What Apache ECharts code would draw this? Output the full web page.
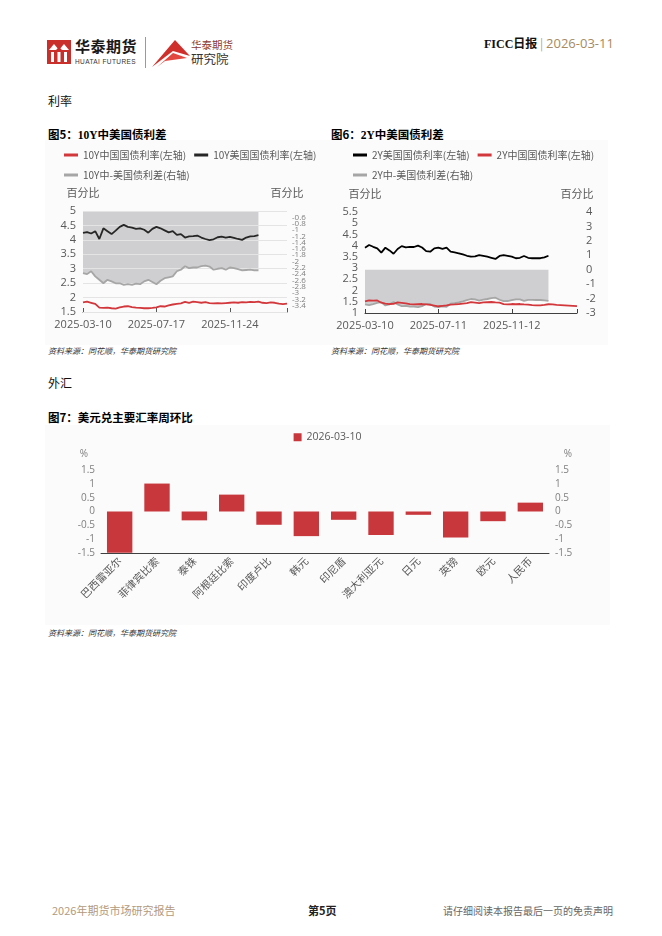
<!DOCTYPE html>
<html><head><meta charset="utf-8">
<script src="https://cdn.jsdelivr.net/npm/echarts@6/dist/echarts.min.js"></script>
<style>
html,body{margin:0;padding:0;background:#fff;}
body{width:662px;height:936px;position:relative;overflow:hidden;font-family:'Noto Sans CJK SC','Noto Sans',sans-serif;}
.t{position:absolute;white-space:nowrap;line-height:1;}
.chart{position:absolute;background:#fbfbfb;}
</style></head>
<body>
<!-- header -->
<svg class="t" style="left:47px;top:40px" width="24" height="24" viewBox="0 0 24 24">
  <rect x="0" y="0" width="24" height="24" fill="#c9302c"/>
  <polygon points="2,10 7,4 12,10" fill="#fff"/>
  <polygon points="12,10 17,4 22,10" fill="#fff"/>
  <rect x="4" y="12" width="3" height="10" fill="#fff"/>
  <rect x="10.5" y="12" width="3" height="10" fill="#fff"/>
  <rect x="17" y="12" width="3" height="10" fill="#fff"/>
  <polygon points="7,12 12,7 17,12" fill="#c9302c"/>
</svg>
<div class="t" style="left:75px;top:38px;font-size:15px;font-weight:bold;letter-spacing:0.5px;color:#1a1a1a">华泰期货</div>
<div class="t" style="left:75px;top:59px;font-size:6.5px;letter-spacing:0.4px;color:#333;font-family:'Liberation Sans',sans-serif">HUATAI FUTURES</div>
<div class="t" style="left:145px;top:37px;width:1px;height:31px;background:#9a9a9a"></div>
<svg class="t" style="left:151px;top:37px" width="40" height="31" viewBox="0 0 40 31">
  <polygon points="1,30 24,3 39,19 22,14" fill="#d0302b"/>
  <polygon points="6,30 22,16 36,21 14,24" fill="#e2483f"/>
</svg>
<div class="t" style="left:191px;top:40px;font-size:10.5px;color:#8a3b35">华泰期货</div>
<div class="t" style="left:191px;top:53px;font-size:12.5px;color:#333">研究院</div>
<div class="t" style="left:484px;top:37px;font-size:12px;font-weight:bold;color:#111"><span style="font-family:'Liberation Serif',serif">FICC</span>日报 <span style="color:#b9a07c;font-weight:normal">|</span> <span style="color:#a68a60;font-weight:normal;font-size:13px;font-family:'Open Sans',sans-serif">2026-03-11</span></div>

<div class="t" style="left:48px;top:95px;font-size:12px;color:#111">利率</div>
<div class="t" style="left:48px;top:129px;font-size:11.5px;font-weight:bold;color:#000">图5：<span style="font-family:'Liberation Serif',serif">10Y</span>中美国债利差</div>
<div class="t" style="left:331px;top:129px;font-size:11.5px;font-weight:bold;color:#000">图6：<span style="font-family:'Liberation Serif',serif">2Y</span>中美国债利差</div>

<div id="c5" class="chart" style="left:45px;top:140px;width:283px;height:205px"></div>
<div id="c6" class="chart" style="left:328px;top:140px;width:280px;height:205px"></div>

<div class="t" style="left:48px;top:347px;font-size:8px;font-style:italic;color:#333">资料来源：同花顺，华泰期货研究院</div>
<div class="t" style="left:331px;top:347px;font-size:8px;font-style:italic;color:#333">资料来源：同花顺，华泰期货研究院</div>

<div class="t" style="left:48px;top:377px;font-size:12px;color:#111">外汇</div>
<div class="t" style="left:48px;top:412px;font-size:11.5px;font-weight:bold;color:#000">图7：美元兑主要汇率周环比</div>
<div id="c7" class="chart" style="left:45px;top:425px;width:565px;height:200px"></div>
<div class="t" style="left:48px;top:629px;font-size:8px;font-style:italic;color:#333">资料来源：同花顺，华泰期货研究院</div>

<!-- footer -->
<div class="t" style="left:52px;top:905px;font-size:11px;color:#b39a7c">2026年期货市场研究报告</div>
<div class="t" style="left:308px;top:905px;font-size:11px;font-weight:bold;color:#222">第5页</div>
<div class="t" style="left:443px;top:906px;font-size:10px;color:#666">请仔细阅读本报告最后一页的免责声明</div>

<script>
// ---------- data ----------
const dates10Y = ['2025-03-10','2025-03-17','2025-03-24','2025-04-01','2025-04-08','2025-04-15','2025-04-22','2025-04-29','2025-05-06','2025-05-13','2025-05-21','2025-05-28','2025-06-04','2025-06-11','2025-06-18','2025-06-25','2025-07-03','2025-07-10','2025-07-17',
 '2025-07-24','2025-07-31','2025-08-08','2025-08-15','2025-08-22','2025-08-29','2025-09-05','2025-09-12','2025-09-19','2025-09-26','2025-10-03','2025-10-10','2025-10-17','2025-10-24','2025-10-31','2025-11-07','2025-11-17','2025-11-24',
 '2025-12-01','2025-12-08','2025-12-15','2025-12-22','2025-12-29','2026-01-05','2026-01-12','2026-01-19','2026-01-26','2026-02-02','2026-02-09','2026-02-16','2026-02-23','2026-03-02'];
const cn10Y = [1.83,1.86,1.82,1.78,1.65,1.64,1.65,1.63,1.62,1.66,1.69,1.70,1.67,1.65,1.64,1.63,1.63,1.64,1.66,1.70,1.69,1.73,1.76,1.78,1.80,1.85,1.82,1.86,1.84,1.82,1.84,1.81,1.80,1.81,1.80,1.81,1.82,1.83,1.82,1.84,1.83,1.85,1.84,1.86,1.82,1.81,1.83,1.82,1.79,1.77,1.79];
const us10Y = [4.24,4.27,4.22,4.30,4.03,4.40,4.30,4.20,4.32,4.45,4.52,4.45,4.42,4.38,4.40,4.35,4.25,4.38,4.45,4.40,4.33,4.26,4.30,4.17,4.20,4.08,4.12,4.13,4.15,4.08,4.03,3.99,4.02,4.09,4.11,4.08,4.10,4.07,4.03,4.00,4.08,4.12,4.13,4.16,null,null,null,null,null,null,null];
const spread10Y = [-2.37,-2.40,-2.31,-2.47,-2.58,-2.69,-2.58,-2.63,-2.69,-2.69,-2.74,-2.72,-2.74,-2.70,-2.72,-2.63,-2.58,-2.65,-2.72,-2.61,-2.53,-2.50,-2.47,-2.31,-2.26,-2.15,-2.21,-2.19,-2.19,-2.15,-2.13,-2.16,-2.26,-2.23,-2.21,-2.26,-2.19,-2.21,-2.24,-2.28,-2.27,-2.26,-2.28,-2.28,null,null,null,null,null,null,null];

const dates2Y = ['2025-03-10','2025-03-17','2025-03-24','2025-03-31','2025-04-07','2025-04-14','2025-04-21','2025-04-28','2025-05-06','2025-05-12','2025-05-19','2025-05-26','2025-06-02','2025-06-09','2025-06-16','2025-06-23','2025-06-30','2025-07-04','2025-07-11',
 '2025-07-18','2025-07-25','2025-08-01','2025-08-08','2025-08-15','2025-08-22','2025-08-29','2025-09-05','2025-09-12','2025-09-19','2025-09-26','2025-10-03','2025-10-10','2025-10-17','2025-10-24','2025-10-31','2025-11-06','2025-11-12',
 '2025-11-19','2025-11-26','2025-12-03','2025-12-10','2025-12-17','2025-12-24','2025-12-31','2026-01-07','2026-01-14','2026-01-21','2026-01-28','2026-02-04','2026-02-11','2026-02-18','2026-02-25','2026-03-04'];
const us2Y = [3.91,4.03,3.95,3.88,3.69,3.91,3.79,3.64,3.85,3.98,3.92,3.95,3.94,4.00,3.92,3.76,3.73,3.88,3.91,3.86,3.91,3.73,3.70,3.66,3.61,3.55,3.51,3.52,3.58,3.55,3.51,3.46,3.41,3.54,3.58,3.55,3.51,3.44,3.46,3.54,3.46,3.44,3.44,3.44,3.48,3.55,null,null,null,null,null,null,null];
const cn2Y = [1.52,1.56,1.55,1.56,1.46,1.42,1.40,1.41,1.47,1.45,1.43,1.40,1.38,1.39,1.40,1.38,1.36,1.33,1.30,1.32,1.34,1.37,1.38,1.40,1.42,1.44,1.48,1.46,1.44,1.47,1.48,1.49,1.47,1.46,1.40,1.38,1.40,1.39,1.40,1.38,1.37,1.35,1.34,1.34,1.36,1.39,1.38,1.36,1.35,1.34,1.33,1.32,1.31];
const spread2Y = [-2.40,-2.45,-2.38,-2.30,-2.25,-2.48,-2.40,-2.24,-2.40,-2.52,-2.50,-2.55,-2.56,-2.60,-2.52,-2.38,-2.37,-2.55,-2.60,-2.54,-2.57,-2.36,-2.32,-2.26,-2.19,-2.11,-2.03,-2.06,-2.14,-2.08,-2.03,-1.97,-1.94,-2.08,-2.18,-2.17,-2.11,-2.05,-2.06,-2.16,-2.09,-2.09,-2.10,-2.10,-2.12,-2.16,null,null,null,null,null,null,null];

const fxNames = ['巴西雷亚尔','菲律宾比索','泰铢','阿根廷比索','印度卢比','韩元','印尼盾','澳大利亚元','日元','英镑','欧元','人民币'];
const fxWeekChg = [-1.49,1.01,-0.32,0.61,-0.48,-0.89,-0.30,-0.85,-0.12,-0.94,-0.35,0.32];
const fxSeriesName = '2026-03-10';

// ---------- styles ----------
const FF = "'Open Sans','Noto Sans CJK SC',sans-serif";
const LBL = '#595959';
const RED = '#d2373c', BLACK10 = '#262626', BLACK2 = '#000000', GREY = '#a6a6a6', AREA = '#cfcfd1';

function lineSeries(name, data, color, yIdx, z){
  return {name, type:'line', data, yAxisIndex:yIdx, symbol:'none', connectNulls:false,
    lineStyle:{color, width:1.8}, itemStyle:{color}, z};
}
function legendCfg(names, left, top){
  return {data:names, left, top, width:400, icon:'rect', itemWidth:14, itemHeight:3, itemGap:8,
    textStyle:{fontSize:10, color:LBL, fontFamily:"'Noto Sans CJK SC',sans-serif"}};
}
function tickEvery(n, last){ return (i)=> i % n === 0 || i === last; }

// chart 5
const c5 = echarts.init(document.getElementById('c5'));
const n5 = ['10Y中国国债利率(左轴)','10Y美国国债利率(左轴)','10Y中-美国债利差(右轴)'];
c5.setOption({
  animation:false, textStyle:{fontFamily:FF},
  legend:[legendCfg([n5[0],n5[1]],14,5), legendCfg([n5[2]],14,25)],
  grid:{left:38, right:41, top:71, bottom:33},
  xAxis:{type:'category', data:dates10Y, boundaryGap:false,
    axisLine:{onZero:false, lineStyle:{color:'#595959'}},
    axisTick:{inside:true, length:4, interval:tickEvery(18, dates10Y.length-1), lineStyle:{color:'#595959'}},
    axisLabel:{interval:(i)=> i%18===0 && i < dates10Y.length-5, color:LBL, fontSize:11, margin:7}},
  yAxis:[
    {type:'value', min:1.5, max:5, interval:0.5, name:'百分比', nameGap:13,
     nameTextStyle:{color:LBL, fontSize:11, fontFamily:"'Noto Sans CJK SC',sans-serif"},
     axisLabel:{color:LBL, fontSize:11, margin:7}, axisLine:{show:false}, axisTick:{show:false},
     splitLine:{lineStyle:{color:'#e4e4e4', width:1}}, z:2},
    {type:'value', min:-3.6, max:-0.4, interval:0.2, name:'百分比', nameGap:13,
     nameTextStyle:{color:LBL, fontSize:11, fontFamily:"'Noto Sans CJK SC',sans-serif"},
     axisLabel:{color:'#7f7f7f', fontSize:8, margin:5}, axisLine:{show:false}, axisTick:{show:false},
     splitLine:{show:false}}
  ],
  series:[
    {name:n5[2], type:'line', data:spread10Y, yAxisIndex:1, symbol:'none', lineStyle:{width:0},
     itemStyle:{color:GREY}, areaStyle:{origin:'end', color:AREA, opacity:1}, z:1},
    lineSeries(n5[2], spread10Y, GREY, 1, 3),
    lineSeries(n5[0], cn10Y, RED, 0, 4),
    lineSeries(n5[1], us10Y, BLACK10, 0, 4)
  ]
});

// chart 6
const c6 = echarts.init(document.getElementById('c6'));
const n6 = ['2Y美国国债利率(左轴)','2Y中国国债利率(左轴)','2Y中-美国债利差(右轴)'];
c6.setOption({
  animation:false, textStyle:{fontFamily:FF},
  legend:[legendCfg([n6[0],n6[1]],20,5), legendCfg([n6[2]],20,25)],
  grid:{left:37, right:31, top:72, bottom:32},
  xAxis:{type:'category', data:dates2Y, boundaryGap:false,
    axisLine:{onZero:false, lineStyle:{color:'#404040'}},
    axisTick:{inside:true, length:4, interval:tickEvery(18, dates2Y.length-1), lineStyle:{color:'#404040'}},
    axisLabel:{interval:(i)=> i%18===0 && i < dates2Y.length-5, color:LBL, fontSize:11, margin:7}},
  yAxis:[
    {type:'value', min:1, max:5.5, interval:0.5, name:'百分比', nameGap:13,
     nameTextStyle:{color:LBL, fontSize:11, fontFamily:"'Noto Sans CJK SC',sans-serif"},
     axisLabel:{color:LBL, fontSize:11, margin:7}, axisLine:{show:false}, axisTick:{show:false},
     splitLine:{show:false}},
    {type:'value', min:-3, max:4, interval:1, name:'百分比', nameGap:13,
     nameTextStyle:{color:LBL, fontSize:11, fontFamily:"'Noto Sans CJK SC',sans-serif"},
     axisLabel:{color:LBL, fontSize:11, margin:9}, axisLine:{show:false}, axisTick:{show:false},
     splitLine:{show:false}}
  ],
  series:[
    {name:n6[2], type:'line', data:spread2Y, yAxisIndex:1, symbol:'none', lineStyle:{width:0},
     itemStyle:{color:GREY}, areaStyle:{color:AREA, opacity:1}, z:1},
    lineSeries(n6[2], spread2Y, GREY, 1, 3),
    lineSeries(n6[1], cn2Y, RED, 0, 4),
    lineSeries(n6[0], us2Y, BLACK2, 0, 5)
  ]
});

// chart 7
const c7 = echarts.init(document.getElementById('c7'));
c7.setOption({
  animation:false, textStyle:{fontFamily:FF},
  legend:{data:[fxSeriesName], top:2, left:'center', icon:'rect', itemWidth:8, itemHeight:8,
    textStyle:{fontSize:10.5, color:LBL}},
  grid:{left:56, right:61, top:45, bottom:72},
  xAxis:{type:'category', data:fxNames,
    axisLine:{onZero:false, lineStyle:{color:'#404040'}},
    axisTick:{inside:true, length:4, lineStyle:{color:'#404040'}},
    axisLabel:{interval:0, rotate:45, color:LBL, fontSize:10.5, margin:6,
      fontFamily:"'Noto Sans CJK SC',sans-serif"}},
  yAxis:[
    {type:'value', min:-1.5, max:1.5, interval:0.5, name:'%', nameGap:11,
     nameTextStyle:{color:'#7f7f7f', fontSize:10, padding:[0,34,0,0]},
     axisLabel:{color:'#7f7f7f', fontSize:10, margin:6}, axisLine:{show:false}, axisTick:{show:false}, splitLine:{show:false}},
    {type:'value', min:-1.5, max:1.5, interval:0.5, name:'%', nameGap:11,
     nameTextStyle:{color:'#7f7f7f', fontSize:10, padding:[0,0,0,38]},
     axisLabel:{color:'#7f7f7f', fontSize:10, margin:6}, axisLine:{show:false}, axisTick:{show:false}, splitLine:{show:false}}
  ],
  series:[{name:fxSeriesName, type:'bar', data:fxWeekChg, barCategoryGap:'32%', itemStyle:{color:'#c8373c'}}]
});
</script>
</body></html>
